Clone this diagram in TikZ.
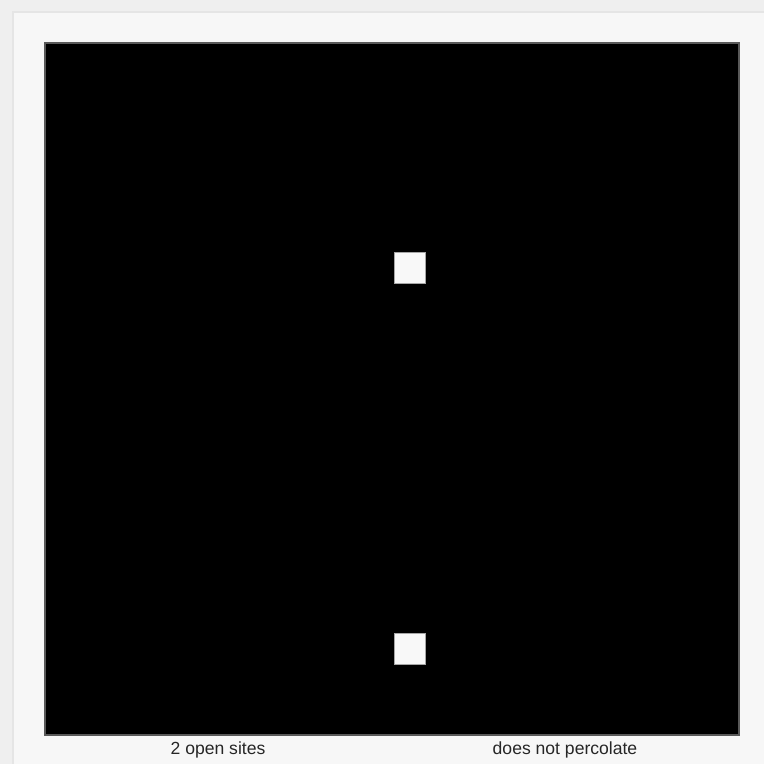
\documentclass[tikz,border=0pt]{standalone}
\usepackage{fontspec}
\setmainfont{Liberation Sans}
\definecolor{panel}{HTML}{F7F7F7}
\definecolor{frame}{HTML}{EFEFEF}
\definecolor{siteopen}{HTML}{F8F8F8}
\begin{document}
\begin{tikzpicture}[x=0.02cm,y=-0.02cm]
	\useasboundingbox (0,0) rectangle (764,764);
	\fill[panel] (0,0) rectangle (764,764);
	\fill[frame] (0,0) rectangle (764,12);
	\fill[frame] (0,0) rectangle (13,764);
	\draw[color=black!10, line width=0.6pt] (13,764) -- (13,12) -- (764,12);
	
	% the grid, 20 x 20 sites
	\filldraw[fill=black, draw=black!65, line width=0.6pt] (45,43) rectangle (739,735);
	
	\foreach \r/\c in {6/10,17/10} {
		\filldraw[fill=siteopen, draw=black!35, line width=0.3pt] (45+\c*34.7+1.8,43+\r*34.6+1.8) rectangle +(31,31);
	}
	
	\node[font=\fontsize{10}{12}\selectfont, text=black!85] (opensites) at (218,750) {2 open sites};
	\node[font=\fontsize{10}{12}\selectfont, text=black!85] (status) at (565,750) {does not percolate};
\end{tikzpicture}
\end{document}
